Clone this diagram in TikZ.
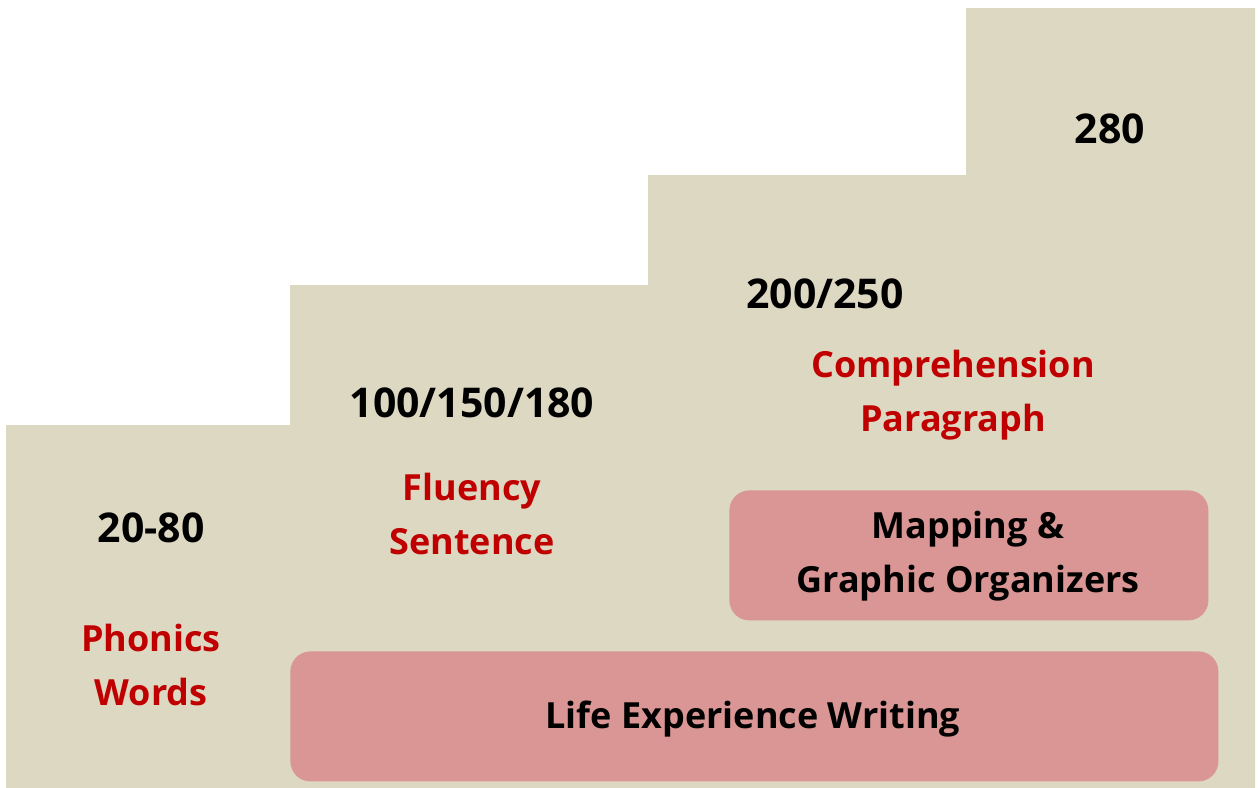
\documentclass[tikz,border=0pt]{standalone}
\usepackage{fontspec}
\setmainfont{Open Sans}
\definecolor{stair}{HTML}{DDD8C2}
\definecolor{pinkbox}{HTML}{D99694}
\definecolor{darkred}{HTML}{C00000}
\begin{document}
\begin{tikzpicture}[x=0.5pt,y=-0.5pt,
  num/.style={font=\fontsize{20.5}{24}\selectfont\bfseries, text=black, align=center, inner sep=0pt},
  lbl/.style={font=\fontsize{18}{27}\selectfont\bfseries, text=darkred, align=center, inner sep=0pt},
  boxtxt/.style={font=\fontsize{18}{27}\selectfont\bfseries, text=black, align=center, inner sep=0pt},
  pbox/.style={fill=pinkbox, draw=none, rounded corners=10pt}]
\fill[white] (0,0) rectangle (1260,788);
\useasboundingbox (0,0) rectangle (1260,788);
\fill[stair] (6,788) -- (6,425) -- (290,425) -- (290,285) -- (648,285) -- (648,175) -- (966,175) -- (966,8) -- (1255,8) -- (1255,788) -- cycle;
\node[pbox, minimum width=464pt, minimum height=65pt, anchor=north west] (life) at (290,651) {};
\node[pbox, minimum width=239.5pt, minimum height=65pt, anchor=north west] (map) at (729,490) {};
\node[boxtxt] (lifet) at (753,719) {Life Experience Writing};
\node[boxtxt] (mapt) at (968,556) {Mapping \&\\Graphic Organizers};
\node[num] (n1) at (151,528) {20-80};
\node[lbl] (l1) at (151,665) {Phonics\\Words};
\node[num] (n2) at (472,403) {100/150/180};
\node[lbl] (l2) at (472,514) {Fluency\\Sentence};
\node[num] (n3) at (825,294) {200/250};
\node[lbl] (l3) at (953,395) {Comprehension\\Paragraph};
\node[num] (n4) at (1110,129) {280};
\end{tikzpicture}
\end{document}
